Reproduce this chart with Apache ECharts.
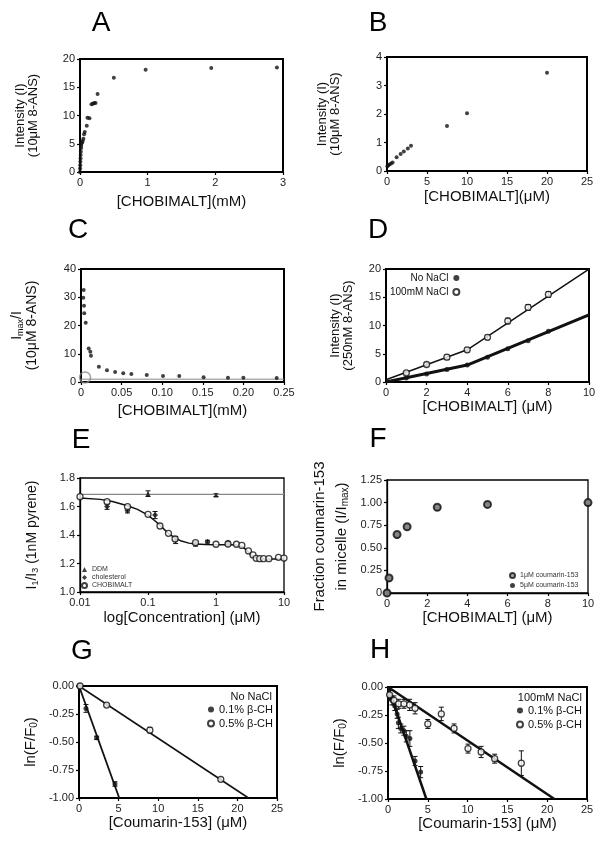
<!DOCTYPE html>
<html>
<head>
<meta charset="utf-8">
<script src="https://cdn.jsdelivr.net/npm/echarts@6/dist/echarts.min.js"></script>
<style>
  html, body { margin: 0; background: #fff; }
  #main { width: 602px; height: 842px; }
</style>
</head>
<body>
<div id="main"></div>
<script>
// ---- A : intensity vs [CHOBIMALT] (mM)
var aX = [0, 0.002, 0.004, 0.006, 0.008, 0.010, 0.012, 0.015, 0.018, 0.022, 0.03, 0.04, 0.05, 0.06, 0.07, 0.10, 0.11, 0.14, 0.17, 0.19, 0.21, 0.23, 0.26, 0.5, 0.97, 1.94, 2.91];
var aY = [0, 0.6, 1.2, 1.8, 2.4, 3.0, 3.6, 4.2, 4.6, 5.0, 5.2, 5.5, 5.9, 6.7, 7.1, 8.2, 9.6, 9.5, 12.0, 12.1, 12.2, 12.2, 13.8, 16.7, 18.1, 18.4, 18.5];

// ---- B : intensity vs [CHOBIMALT] (uM)
var bX = [0.05, 0.15, 0.3, 0.5, 0.7, 1.2, 1.7, 2.1, 2.6, 3.0, 7.5, 10, 20];
var bY = [0.17, 0.2, 0.23, 0.26, 0.3, 0.48, 0.6, 0.68, 0.79, 0.89, 1.58, 2.03, 3.45];

// ---- C : Imax/I
var cX = [0.0028, 0.0033, 0.0037, 0.004, 0.0058, 0.0095, 0.0115, 0.0123, 0.022, 0.032, 0.042, 0.052, 0.062, 0.081, 0.101, 0.121, 0.151, 0.181, 0.2, 0.241];
var cY = [29.8, 32.6, 27.0, 24.3, 21.0, 11.9, 10.7, 9.3, 5.4, 4.2, 3.5, 3.1, 2.8, 2.5, 2.1, 2.1, 1.7, 1.5, 1.5, 1.4];
var cRef = [[0, 1], [0.25, 1]];
var cMark = [[0.005, 1.6]];

// ---- D : intensity, no NaCl / 100mM NaCl
var dX = [1, 2, 3, 4, 5, 6, 7, 8];
var dNo = [0.7, 1.4, 2.2, 3.0, 4.4, 5.9, 7.3, 9.0];
var dNa = [1.6, 3.1, 4.4, 5.7, 7.9, 10.8, 13.2, 15.5];
var dNaErr = [0.3, 0.3, 0.4, 0.4, 0.4, 0.5, 0.5, 0.5];
var dFitNo = [[0, 0], [4, 3.0], [10, 11.9]];
var dFitNa = [[0, 0.4], [4, 5.7], [10, 20]];

// ---- E : pyrene I1/I3
var eDdmLine = [[0.01, 1.685], [10, 1.685]];
var eDdmX = [0.1, 1];
var eDdmY = [1.69, 1.68];
var eDdmErr = [0.02, 0.01];
var eCholX = [0.025, 0.05, 0.127, 0.255, 0.5, 0.75, 1.5];
var eCholY = [1.60, 1.57, 1.54, 1.365, 1.337, 1.353, 1.346];
var eCholErr = [0.02, 0.015, 0.025, 0.025, 0.015, 0.01, 0.01];
var eChoX = [0.01, 0.025, 0.05, 0.1, 0.15, 0.2, 0.25, 0.5, 1, 1.5, 2, 2.4, 3, 3.5, 3.9, 4.4, 5, 6, 8.3, 10];
var eChoY = [1.669, 1.634, 1.599, 1.545, 1.463, 1.412, 1.372, 1.346, 1.335, 1.337, 1.335, 1.327, 1.288, 1.26, 1.236, 1.234, 1.234, 1.234, 1.243, 1.238];
var eFitX = [0.01, 0.02, 0.03, 0.05, 0.07, 0.1, 0.13, 0.16, 0.2, 0.25, 0.3, 0.4, 0.5, 0.7, 1, 1.5, 2, 2.4, 2.8, 3.2, 3.6, 4, 5, 7, 10];
var eFitY = [1.66, 1.65, 1.635, 1.605, 1.58, 1.54, 1.495, 1.455, 1.41, 1.38, 1.36, 1.343, 1.337, 1.333, 1.332, 1.332, 1.33, 1.32, 1.295, 1.265, 1.245, 1.235, 1.232, 1.232, 1.232];

// ---- F : fraction coumarin-153 in micelle
var fX = [0, 0.1, 0.5, 1, 2.5, 5, 10];
var f1 = [0, 0.167, 0.648, 0.733, 0.948, 0.98, 1.0];
var f5 = [0, 0.16, 0.64, 0.73, 0.945, 0.975, 0.995];

// ---- G : ln(F/F0), no NaCl
var gX1 = [0, 0.88, 2.23, 4.54];
var gY1 = [0, -0.2, -0.463, -0.875];
var gE1 = [0, 0.035, 0.015, 0.02];
var gX2 = [0.13, 3.49, 8.95, 17.9];
var gY2 = [0, -0.17, -0.394, -0.833];
var gE2 = [0, 0.01, 0.025, 0.015];
var gFit1 = [[0, 0], [5.08, -1]];
var gFit2 = [[0, 0], [21.4, -1]];

// ---- H : ln(F/F0), 100mM NaCl
var hX1 = [0.2, 0.5, 0.85, 1.15, 1.3, 1.6, 2.0, 2.3, 2.75, 3.4, 4.1];
var hY1 = [-0.09, -0.12, -0.17, -0.24, -0.32, -0.37, -0.39, -0.44, -0.46, -0.66, -0.76];
var hE1 = [0.03, 0.04, 0.04, 0.04, 0.05, 0.04, 0.04, 0.05, 0.07, 0.04, 0.05];
var hX2 = [0.2, 0.75, 1.34, 2.0, 2.72, 3.4, 5.0, 6.7, 8.3, 10.05, 11.7, 13.4, 16.75];
var hY2 = [-0.07, -0.12, -0.15, -0.15, -0.16, -0.19, -0.33, -0.24, -0.37, -0.55, -0.58, -0.64, -0.68];
var hE2 = [0.04, 0.04, 0.04, 0.04, 0.05, 0.05, 0.04, 0.06, 0.04, 0.04, 0.05, 0.04, 0.11];
var hFit1 = [[0, 0], [4.82, -1]];
var hFit2 = [[0, 0], [20.9, -1]];

function zip(xs, ys, es) {
    return xs.map(function (x, i) {
        return es ? [x, ys[i], es[i]] : [x, ys[i]];
    });
}

var FONT = 'Liberation Sans, Arial, sans-serif';

var grids = [
    [80, 59, 203, 113, 2],
    [387, 57, 200, 114, 2],
    [81, 269, 203, 113, 2],
    [386, 269, 203, 113, 2],
    [80, 478, 204, 114, 1.3],
    [387, 480, 201, 113, 1.3],
    [79, 686, 198, 112, 2],
    [388, 687, 199, 112, 2]
].map(function (g) {
    return { left: g[0], top: g[1], width: g[2], height: g[3], show: true,
             borderColor: '#000', borderWidth: g[4], backgroundColor: 'transparent' };
});

function axis(i, o) {
    var w = (i === 4 || i === 5) ? 1.3 : 2;
    var base = {
        gridIndex: i, type: 'value', nameLocation: 'middle',
        axisLine: { onZero: false, lineStyle: { color: '#000', width: w } },
        axisTick: { length: 3, lineStyle: { color: '#000', width: 1.2 } },
        axisLabel: { color: '#222', fontSize: 11, fontFamily: FONT, margin: 5 },
        splitLine: { show: false },
        nameTextStyle: { color: '#111', fontSize: 15, fontFamily: FONT }
    };
    return Object.assign(base, o);
}

function lbl(fmt) {
    return { color: '#222', fontSize: 11, fontFamily: FONT, margin: 5, formatter: fmt };
}
var fix2 = function (v) { return v === 0 ? '0' : v.toFixed(2); };

// rich style for rotated y names with subscripts
function richName(size, lh) {
    return { color: '#111', fontSize: size, fontFamily: FONT, lineHeight: lh,
             rich: { a: { fontSize: size, fontFamily: FONT, color: '#111', lineHeight: lh },
                     s: { fontSize: size - 5, fontFamily: FONT, color: '#111', lineHeight: lh, padding: [7, 0, 0, 0] } } };
}

var xAxes = [
    axis(0, { min: 0, max: 3, interval: 1, name: '[CHOBIMALT](mM)', nameGap: 22 }),
    axis(1, { min: 0, max: 25, interval: 5, name: '[CHOBIMALT](\u03bcM)', nameGap: 18 }),
    axis(2, { min: 0, max: 0.25, interval: 0.05, name: '[CHOBIMALT](mM)', nameGap: 21, axisLabel: lbl(fix2) }),
    axis(3, { min: 0, max: 10, interval: 2, name: '[CHOBIMALT] (\u03bcM)', nameGap: 16 }),
    axis(4, { type: 'log', logBase: 10, min: 0.01, max: 10, name: 'log[Concentration] (\u03bcM)', nameGap: 18,
              axisLabel: lbl(function (v) { return String(+v.toPrecision(3)); }) }),
    axis(5, { min: 0, max: 10, interval: 2, name: '[CHOBIMALT] (\u03bcM)', nameGap: 17 }),
    axis(6, { min: 0, max: 25, interval: 5, name: '[Coumarin-153] (\u03bcM)', nameGap: 13 }),
    axis(7, { min: 0, max: 25, interval: 5, name: '[Coumarin-153] (\u03bcM)', nameGap: 14 })
];

var yAxes = [
    axis(0, { min: 0, max: 20, interval: 5, name: '{a|Intensity (I)}\n{a|(10\u03bcM 8-ANS)}', nameGap: 40, nameTextStyle: richName(13, 13) }),
    axis(1, { min: 0, max: 4, interval: 1, name: '{a|Intensity (I)}\n{a|(10\u03bcM 8-ANS)}', nameGap: 45, nameTextStyle: richName(13, 13) }),
    axis(2, { min: 0, max: 40, interval: 10, name: '{a|I}{s|max}{a|/I}\n{a|(10\u03bcM 8-ANS)}', nameGap: 41, nameTextStyle: richName(14, 15) }),
    axis(3, { min: 0, max: 20, interval: 5, name: '{a|Intensity (I)}\n{a|(250nM 8-ANS)}', nameGap: 31, nameTextStyle: richName(13, 13) }),
    axis(4, { min: 1.0, max: 1.8, interval: 0.2, name: '{a|I}{s|1}{a|/I}{s|3}{a| (1nM pyrene)}', nameGap: 40,
              axisLabel: lbl(function (v) { return v.toFixed(1); }), nameTextStyle: richName(14, 16) }),
    axis(5, { min: 0, max: 1.25, interval: 0.25, name: '{a|Fraction coumarin-153}\n{a|in micelle (I/I}{s|max}{a|)}', nameGap: 34,
              axisLabel: lbl(fix2), nameTextStyle: richName(15, 22) }),
    axis(6, { min: -1, max: 0, interval: 0.25, name: '{a|ln(F/F}{s|0}{a|)}', nameGap: 40,
              axisLabel: lbl(function (v) { return v.toFixed(2); }), nameTextStyle: richName(15, 17) }),
    axis(7, { min: -1, max: 0, interval: 0.25, name: '{a|ln(F/F}{s|0}{a|)}', nameGap: 40,
              axisLabel: lbl(function (v) { return v.toFixed(2); }), nameTextStyle: richName(15, 17) })
];

function dots(i, name, data, o) {
    return Object.assign({
        type: 'scatter', name: name, xAxisIndex: i, yAxisIndex: i, data: data,
        symbol: 'circle', symbolSize: 4, itemStyle: { color: '#111' }, z: 4, silent: true
    }, o);
}

function fit(i, data, w, color) {
    return { type: 'line', xAxisIndex: i, yAxisIndex: i, data: data, symbol: 'none', silent: true,
             lineStyle: { color: color || '#111', width: w, type: 'solid', opacity: 1 }, z: 3, clip: true };
}

function errBars(i, data, w) {
    return {
        type: 'custom', xAxisIndex: i, yAxisIndex: i, data: data, silent: true, z: 3,
        encode: { x: 0, y: 1 },
        renderItem: function (params, api) {
            var x = api.value(0), y = api.value(1), e = api.value(2);
            var t = api.coord([x, y + e]), b = api.coord([x, y - e]);
            var c = 2.5;
            var st = { stroke: '#111', lineWidth: w || 1 };
            return { type: 'group', children: [
                { type: 'line', shape: { x1: t[0], y1: t[1], x2: b[0], y2: b[1] }, style: st },
                { type: 'line', shape: { x1: t[0] - c, y1: t[1], x2: t[0] + c, y2: t[1] }, style: st },
                { type: 'line', shape: { x1: b[0] - c, y1: b[1], x2: b[0] + c, y2: b[1] }, style: st }
            ] };
        }
    };
}

var openDot = { symbol: 'circle', symbolSize: 6, itemStyle: { color: '#fff', borderColor: '#111', borderWidth: 1.3 } };

var series = [
    dots(0, 'A', zip(aX, aY)),
    dots(1, 'B', zip(bX, bY)),
    fit(2, cRef, 1, '#888'),
    dots(2, 'C', zip(cX, cY)),
    dots(2, 'Cmark', cMark, { symbolSize: 11, itemStyle: { color: 'rgba(0,0,0,0)', borderColor: '#888', borderWidth: 1.5 } }),

    fit(3, dFitNo, 3),
    fit(3, dFitNa, 1.5),
    errBars(3, zip(dX, dNa, dNaErr), 1),
    dots(3, 'No NaCl', zip(dX, dNo), { symbolSize: 5 }),
    dots(3, '100mM NaCl', zip(dX, dNa), openDot),

    fit(4, eDdmLine, 1.2, '#888'),
    fit(4, zip(eFitX, eFitY), 1.5),
    errBars(4, zip(eDdmX, eDdmY, eDdmErr), 1),
    errBars(4, zip(eCholX, eCholY, eCholErr), 1),
    dots(4, 'DDM', zip(eDdmX, eDdmY), { symbol: 'triangle', symbolSize: 5 }),
    dots(4, 'cholesterol', zip(eCholX, eCholY), { symbol: 'diamond', symbolSize: 6 }),
    dots(4, 'CHOBIMALT', zip(eChoX, eChoY), openDot),

    dots(5, '5\u03bcM coumarin-153', zip(fX, f5), { symbolSize: 7 }),
    dots(5, '1\u03bcM coumarin-153', zip(fX, f1), { symbolSize: 7, itemStyle: { color: '#999', borderColor: '#111', borderWidth: 2 } }),

    fit(6, gFit1, 1.8),
    fit(6, gFit2, 1.5),
    errBars(6, zip(gX1, gY1, gE1), 1),
    errBars(6, zip(gX2, gY2, gE2), 1),
    dots(6, '0.1% \u03b2-CH', zip(gX1, gY1), { symbolSize: 5 }),
    dots(6, '0.5% \u03b2-CH', zip(gX2, gY2), openDot),

    fit(7, hFit1, 2.5),
    fit(7, hFit2, 2.5),
    errBars(7, zip(hX1, hY1, hE1), 1),
    errBars(7, zip(hX2, hY2, hE2), 1),
    dots(7, '0.1% \u03b2-CH (100mM)', zip(hX1, hY1), { symbolSize: 5 }),
    dots(7, '0.5% \u03b2-CH (100mM)', zip(hX2, hY2), openDot)
];

function legend(names, o) {
    return Object.assign({
        data: names, orient: 'vertical', itemWidth: 6, itemHeight: 6, itemGap: 3, padding: 0,
        selectedMode: false, textStyle: { color: '#111', fontSize: 10, fontFamily: FONT },
        formatter: function (n) { return n.replace(' (100mM)', ''); }
    }, o);
}

var legends = [
    legend(['No NaCl', '100mM NaCl'], { left: 390, top: 273, align: 'right', itemGap: 4,
        textStyle: { color: '#111', fontSize: 10, fontFamily: FONT, width: 58, align: 'right' } }),
    legend(['DDM', 'cholesterol', 'CHOBIMALT'], { left: 81, top: 566, itemWidth: 5, itemHeight: 5, itemGap: 1,
        textStyle: { color: '#333', fontSize: 7, fontFamily: FONT } }),
    legend(['1\u03bcM coumarin-153', '5\u03bcM coumarin-153'], { left: 509, top: 572, itemWidth: 5, itemHeight: 5, itemGap: 3,
        textStyle: { color: '#333', fontSize: 7, fontFamily: FONT } }),
    legend(['0.1% \u03b2-CH', '0.5% \u03b2-CH'], { right: 329, top: 704, itemGap: 3, textStyle: { color: '#111', fontSize: 11, fontFamily: FONT } }),
    legend(['0.1% \u03b2-CH (100mM)', '0.5% \u03b2-CH (100mM)'], { right: 20, top: 705, itemGap: 3, textStyle: { color: '#111', fontSize: 11, fontFamily: FONT } })
];

function letter(t, x, y) {
    return { type: 'text', x: x, y: y, silent: true,
             style: { text: t, fill: '#000', font: '28px ' + FONT, align: 'center', verticalAlign: 'middle' } };
}
function note(t, x, y) {
    return { type: 'text', x: x, y: y, silent: true,
             style: { text: t, fill: '#111', font: '11px ' + FONT, align: 'right', verticalAlign: 'middle' } };
}

var chart = echarts.init(document.getElementById('main'), null, { renderer: 'canvas' });
chart.setOption({
    backgroundColor: '#fff',
    animation: false,
    grid: grids,
    xAxis: xAxes,
    yAxis: yAxes,
    legend: legends,
    series: series,
    graphic: [
        letter('A', 101, 23), letter('B', 378, 23),
        letter('C', 78, 230), letter('D', 378, 230),
        letter('E', 81, 440), letter('F', 378, 439),
        letter('G', 82, 651), letter('H', 380, 650),
        note('No NaCl', 272, 697),
        note('100mM NaCl', 582, 698)
    ]
});
</script>
</body>
</html>
